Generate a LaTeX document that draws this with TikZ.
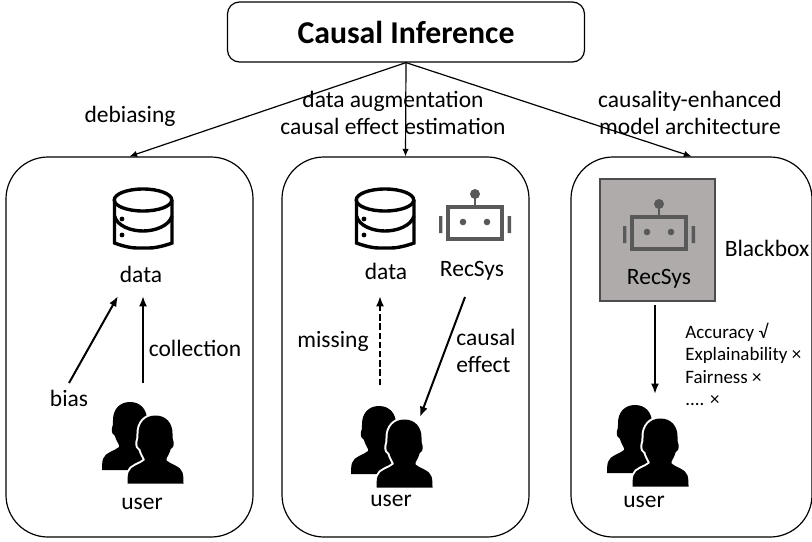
\documentclass[tikz,border=0pt]{standalone}
\usepackage{fontspec}
\setmainfont{Carlito}
\usetikzlibrary{arrows.meta}

\newcommand{\personpath}{(28,0) .. controls (17,0) and (11,8) .. (11,18) .. controls (11,22) and (11,24) .. (10,26) .. controls (9,30) and (11,33) .. (13,34) .. controls (14,38) and (16,41) .. (17,43) -- (17,45) .. controls (13,49) and (3,50) .. (1,57) .. controls (0,60) and (0,65) .. (0,68) -- (56,68) .. controls (56,65) and (56,60) .. (55,57) .. controls (53,50) and (43,49) .. (39,45) -- (39,43) .. controls (40,41) and (42,38) .. (43,34) .. controls (45,33) and (47,30) .. (46,26) .. controls (45,24) and (45,22) .. (45,18) .. controls (45,8) and (39,0) .. (28,0) -- cycle}

\tikzset{
  users/.pic={
    \fill[black] \personpath;
    \begin{scope}[shift={(25.5,13.5)}]
      \filldraw[fill=black,draw=white,line width=1mm] \personpath;
      \fill[black] \personpath;
    \end{scope}
  },
  database/.pic={
    \draw[black,line width=0.85mm,rounded corners=1.5mm] (1.5,12) -- (1.5,49) .. controls (1.5,55) and (14,60) .. (30,60) .. controls (46,60) and (59,55) .. (59,49) -- (59,12);
    \draw[black,line width=0.85mm] (30,12) ellipse (28.75 and 11);
    \draw[black,line width=0.85mm] (1.5,28) .. controls (4,38) and (18,43) .. (30,43) .. controls (42,43) and (56,38) .. (59,28);
    \fill[black] (9,31) circle (2.4) (9,47) circle (2.4);
  },
  robot/.pic={
    \fill[botgray] (36,5) circle (5);
    \draw[botgray,line width=0.6mm] (36,5) -- (36,17);
    \draw[botgray,line width=0.85mm] (9,18) rectangle (63,50);
    \fill[botgray] (24,33) circle (3.3) (48,33) circle (3.3);
    \fill[botgray] (0,27) rectangle (3.4,44) (68.6,27) rectangle (72,44);
  },
  bigarrow/.style={-{Latex[length=1.9mm,width=1.6mm]},line width=0.3mm},
  smallarrow/.style={-{Latex[length=2.6mm,width=2mm]},line width=0.5mm}
}
\definecolor{botgray}{HTML}{595959}
\definecolor{boxgray}{HTML}{AFABAB}

\begin{document}
\begin{tikzpicture}[x=0.25mm,y=-0.25mm]
  \useasboundingbox (0,0) rectangle (812,541);

  \begin{scope}[every node/.style={draw,line width=0.3mm,rounded corners=10.5mm,minimum height=95mm,inner sep=0}]
    \node[minimum width=61.75mm] (panel1) at (129.5,347) {};
    \node[minimum width=61.75mm] (panel2) at (405.5,347) {};
    \node[minimum width=60.25mm] (panel3) at (691.5,347) {};
  \end{scope}

  \node[draw,line width=0.3mm,rounded corners=3mm,minimum width=89.25mm,minimum height=15mm,inner sep=0,font=\fontsize{22.6}{27}\selectfont\bfseries] (cause) at (406,32) {Causal Inference};
  \node[draw=black!70,fill=boxgray,line width=0.3mm,minimum width=28.75mm,minimum height=30.5mm,inner sep=0] (blackbox) at (657.5,240) {};

  \pic at (113,188) {database};
  \pic at (355,188) {database};
  \pic at (439,189) {robot};
  \pic at (623,199) {robot};
  \pic at (102,402) {users};
  \pic at (351,406) {users};
  \pic at (607,405) {users};

  \begin{scope}[every node/.style={font=\fontsize{16.7}{19.2}\selectfont,align=center,inner sep=0}]
    \node (debias) at (130,116) {debiasing};
    \node (augment) at (393,113) {data augmentation\\causal effect estimation};
    \node (enhance) at (690,113) {causality-enhanced\\model architecture};
    \node (data1) at (141,274) {data};
    \node (collect) at (195,348) {collection};
    \node (bias) at (69,398) {bias};
    \node (user1) at (142,504) {user};
    \node (data2) at (386,271) {data};
    \node (rec2) at (472,271) {RecSys};
    \node (missing) at (333,341) {missing};
    \node[align=left] (effect) at (486,351) {causal\\effect};
    \node (user2) at (391,501) {user};
    \node (rec3) at (659,279) {RecSys};
    \node (bbox) at (767,248) {Blackbox};
    \node (user3) at (644,502) {user};
  \end{scope}
  \node[font=\fontsize{13.5}{15.9}\selectfont,align=left,inner sep=0,anchor=north west] (metrics) at (685,323) {Accuracy √\\Explainability ×\\Fairness ×\\.... ×};

  \coordinate (biasout) at (69,383);
  \coordinate (biasin) at (118,296);
  \coordinate (collectout) at (143,383);
  \coordinate (collectin) at (143,296);
  \coordinate (missout) at (380,385);
  \coordinate (missin) at (380,296);
  \coordinate (effectout) at (465,297);
  \coordinate (effectin) at (420,417);
  \coordinate (boxout) at (655,305);
  \coordinate (boxin) at (655,394);

  \draw[bigarrow] (cause.south) -- (panel1.north);
  \draw[bigarrow] (cause.south) -- (panel2.north);
  \draw[bigarrow] (cause.south) -- (panel3.north);
  \draw[smallarrow] (biasout) -- (biasin);
  \draw[smallarrow] (collectout) -- (collectin);
  \draw[smallarrow,dash pattern=on 1.6mm off 0.7mm] (missout) -- (missin);
  \draw[smallarrow] (effectout) -- (effectin);
  \draw[smallarrow] (boxout) -- (boxin);
\end{tikzpicture}
\end{document}
